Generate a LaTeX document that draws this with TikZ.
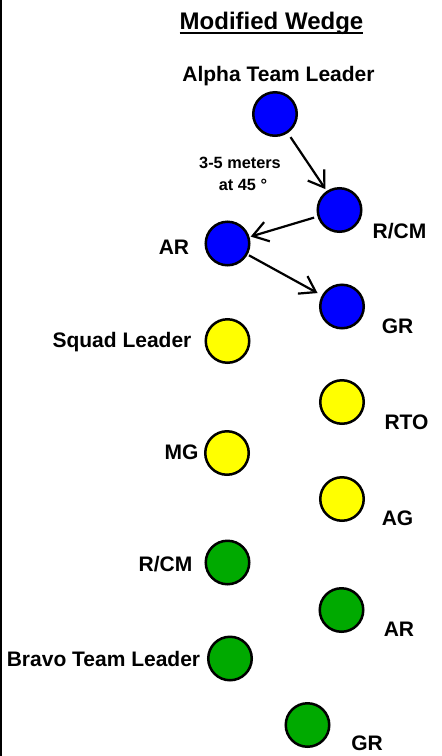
\documentclass[tikz,border=0pt]{standalone}
\usepackage{fontspec}
\setmainfont{Liberation Sans}
\usetikzlibrary{arrows.meta}
\definecolor{tblue}{RGB}{0,0,255}
\definecolor{tyellow}{RGB}{255,255,0}
\definecolor{tgreen}{RGB}{0,170,0}
\begin{document}
\begin{tikzpicture}[x=1pt,y=-1pt,
  soldier/.style={circle,draw=black,line width=2.5pt,minimum size=43.5pt,inner sep=0pt,outer sep=0pt},
  lbl/.style={font=\fontsize{21}{24}\selectfont\bfseries,anchor=base,inner sep=0pt},
  small/.style={font=\fontsize{16.3}{19}\selectfont\bfseries,anchor=base,inner sep=0pt},
  move/.style={-{Straight Barb[length=15pt,width=20pt,line width=2.2pt]},line width=2.2pt}]
\useasboundingbox (0,0) rectangle (442,756);
\fill[black] (0,0) rectangle (2,756);
% title
\node[font=\fontsize{24}{28}\selectfont\bfseries,anchor=base,inner sep=0pt] (title) at (271.5,29) {Modified Wedge};
\draw[line width=2pt] ([yshift=-3.7pt]title.base west) -- ([yshift=-3.7pt]title.base east);
% alpha team
\node[soldier,fill=tblue] (atl) at (275,114) {};
\node[soldier,fill=tblue] (arcm) at (339.5,210) {};
\node[soldier,fill=tblue] (aar) at (227.5,243.5) {};
\node[soldier,fill=tblue] (agr) at (342,306.5) {};
% squad HQ
\node[soldier,fill=tyellow] (sl) at (227.5,341) {};
\node[soldier,fill=tyellow] (rto) at (342,402) {};
\node[soldier,fill=tyellow] (mg) at (227,453) {};
\node[soldier,fill=tyellow] (ag) at (342,499) {};
% bravo team
\node[soldier,fill=tgreen] (brcm) at (227.5,562.5) {};
\node[soldier,fill=tgreen] (bar) at (341.5,610) {};
\node[soldier,fill=tgreen] (btl) at (230,658.5) {};
\node[soldier,fill=tgreen] (bgr) at (307.5,725) {};
% labels
\node[lbl] (latl) at (278.5,81) {Alpha Team Leader};
\node[small] (dist1) at (240,168) {3-5 meters};
\node[small] (dist2) at (243,190) {at 45 °};
\node[lbl] (larcm) at (399.5,238) {R/CM};
\node[lbl] (laar) at (174,254) {AR};
\node[lbl] (lagr) at (397.5,333) {GR};
\node[lbl] (lsl) at (122,347) {Squad Leader};
\node[lbl] (lrto) at (406.5,429) {RTO};
\node[lbl] (lmg) at (181.5,459) {MG};
\node[lbl] (lag) at (397.5,525) {AG};
\node[lbl] (lbrcm) at (165.5,571) {R/CM};
\node[lbl] (lbar) at (399,636) {AR};
\node[lbl] (lbtl) at (103.5,666) {Bravo Team Leader};
\node[lbl] (lbgr) at (367,750) {GR};
% movement arrows
\draw[move,shorten <=6.1pt,shorten >=3.4pt] (atl) -- (arcm);
\draw[move,shorten <=4.75pt,shorten >=2.45pt] (arcm) -- (aar);
\draw[move,shorten <=2.75pt,shorten >=6.15pt] (aar) -- (agr);
\end{tikzpicture}
\end{document}
